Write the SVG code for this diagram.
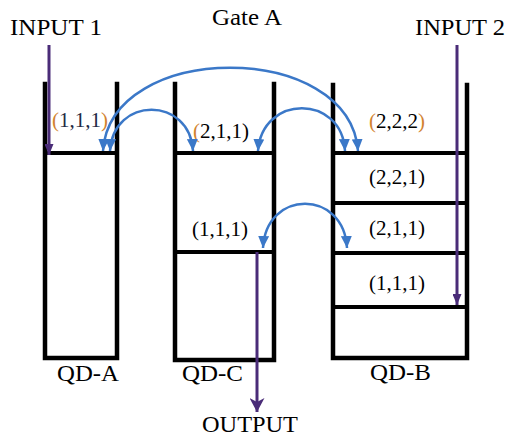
<svg xmlns="http://www.w3.org/2000/svg" width="510" height="441" viewBox="0 0 510 441">
<style>
.wall{fill:none;stroke:#000;stroke-width:4.5;stroke-linecap:square}
.sep{stroke:#000;stroke-width:4}
.lbl{font-family:"Liberation Serif","Times New Roman",serif;fill:#000}
.big{font-size:23px}
.tup{font-size:21px;text-anchor:middle}
.or{fill:#d2832f}
.arc{fill:none;stroke:#3b78c8;stroke-width:2.5;marker-start:url(#bh);marker-end:url(#bh)}
.pur{fill:none;stroke:#4a2c78;stroke-width:3}
</style>
<defs>
<marker id="bh" markerUnits="userSpaceOnUse" markerWidth="13" markerHeight="11" refX="12" refY="5.5" orient="auto-start-reverse">
<path d="M0,0 L12,5.5 L0,11 z" fill="#3b78c8"/>
</marker>
<marker id="ph" markerUnits="userSpaceOnUse" markerWidth="12" markerHeight="9" refX="11" refY="4.5" orient="auto">
<path d="M0,0 L11,4.5 L0,9 z" fill="#4a2c78"/>
</marker>
<marker id="phb" markerUnits="userSpaceOnUse" markerWidth="15" markerHeight="15" refX="14" refY="7.5" orient="auto">
<path d="M0,0 L14,7.5 L0,15 L4,7.5 z" fill="#4a2c78"/>
</marker>
</defs>
<rect width="510" height="441" fill="#fff"/>
<text class="lbl big" x="10" y="35" textLength="92" lengthAdjust="spacingAndGlyphs">INPUT 1</text>
<text class="lbl big" x="212" y="25" textLength="70" lengthAdjust="spacingAndGlyphs">Gate A</text>
<text class="lbl big" x="415" y="35" textLength="90" lengthAdjust="spacingAndGlyphs">INPUT 2</text>
<g id="qd-a">
<path class="wall" d="M45,84 V358 H117 V84"/>
<line class="sep" x1="45" y1="153" x2="117" y2="153"/>
<text class="lbl tup" x="80" y="127"><tspan class="or">(</tspan><tspan fill="#1f2a44">1,1,1</tspan><tspan class="or">)</tspan></text>
<text class="lbl big" x="57" y="381" textLength="62" lengthAdjust="spacingAndGlyphs">QD-A</text>
</g>
<g id="qd-c">
<path class="wall" d="M175,84 V360 H274 V84"/>
<line class="sep" x1="175" y1="153" x2="274" y2="153"/>
<line class="sep" x1="175" y1="252" x2="274" y2="252"/>
<text class="lbl tup" x="221" y="138"><tspan class="or">(</tspan>2,1,1)</text>
<text class="lbl tup" x="220" y="236">(1,1,1)</text>
<text class="lbl big" x="182" y="381" textLength="61" lengthAdjust="spacingAndGlyphs">QD-C</text>
</g>
<g id="qd-b">
<path class="wall" d="M333,85 V358 H467 V85"/>
<line class="sep" x1="333" y1="153" x2="467" y2="153"/>
<line class="sep" x1="333" y1="203" x2="467" y2="203"/>
<line class="sep" x1="333" y1="253" x2="467" y2="253"/>
<line class="sep" x1="333" y1="307" x2="467" y2="307"/>
<text class="lbl tup" x="397" y="128" fill="#9a6230"><tspan class="or">(</tspan>2,2,2<tspan class="or">)</tspan></text>
<text class="lbl tup" x="397" y="184">(2,2,1)</text>
<text class="lbl tup" x="397" y="235">(2,1,1)</text>
<text class="lbl tup" x="397" y="290">(1,1,1)</text>
<text class="lbl big" x="370" y="380" textLength="61" lengthAdjust="spacingAndGlyphs">QD-B</text>
</g>
<g id="output-label">
<text class="lbl big" x="202" y="432" textLength="96" lengthAdjust="spacingAndGlyphs">OUTPUT</text>
</g>
<g id="connectors">
<path class="arc" d="M103,151 C110,40 350,40 358,151"/>
<path class="arc" d="M110,151 C113,96 190,96 193,151"/>
<path class="arc" d="M258,151 C262,94 342,94 345,151"/>
<path class="arc" d="M263,248 C266,189 344,189 347,248"/>
<path class="pur" d="M49,45 V155" marker-end="url(#ph)"/>
<path class="pur" d="M457,45 V305" marker-end="url(#ph)"/>
<path class="pur" d="M257,252 V412" marker-end="url(#phb)"/>
</g>
</svg>
